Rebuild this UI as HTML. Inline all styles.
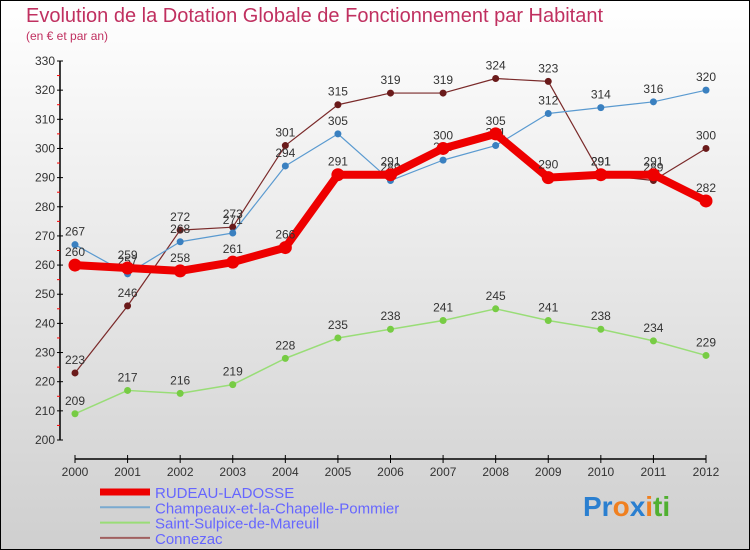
<!DOCTYPE html>
<html><head><meta charset="utf-8"><style>
body{margin:0;}
#c{width:750px;height:550px;position:relative;box-sizing:border-box;border:1px solid #000;background:linear-gradient(#ffffff,#cfcfcf);font-family:"Liberation Sans",sans-serif;overflow:hidden}
</style></head><body>
<div id="c">
<svg id="s" width="750" height="550" style="position:absolute;left:-1px;top:-1px">
<text x="26" y="22" font-size="20" fill="#c03060">Evolution de la Dotation Globale de Fonctionnement par Habitant</text>
<text x="26" y="40" font-size="12" fill="#c03060">(en € et par an)</text>
<g id="axes"></g><g id="series"></g><g id="legend"></g>
<text x="583" y="516" font-size="28" font-weight="bold"><tspan fill="#2a7fd0">Pr</tspan><tspan fill="#f08020">o</tspan><tspan fill="#2a7fd0">x</tspan><tspan fill="#f08020">i</tspan><tspan fill="#50b030">ti</tspan></text>
</svg>
</div>
<script>
const years=[2000,2001,2002,2003,2004,2005,2006,2007,2008,2009,2010,2011,2012];
const yTicks=[200,210,220,230,240,250,260,270,280,290,300,310,320,330];
const rudeau=[260,259,258,261,266,291,291,300,305,290,291,291,282];
const champeaux=[267,257,268,271,294,305,289,296,301,312,314,316,320];
const sulpice=[209,217,216,219,228,235,238,241,245,241,238,234,229];
const connezac=[223,246,272,273,301,315,319,319,324,323,291,289,300];
const NS="http://www.w3.org/2000/svg";
function X(i){return 75+i*(706-75)/12;}
function Y(v){return 440-(v-200)*(440-61)/130;}
function mk(t,a,p){const e=document.createElementNS(NS,t);for(const k in a)e.setAttribute(k,a[k]);p.appendChild(e);return e;}
const ax=document.getElementById('axes');
let e=mk('line',{x1:60,y1:61,x2:60,y2:440,stroke:'#000','stroke-width':1.5},ax);

e=mk('line',{x1:75,y1:459,x2:706,y2:459,stroke:'#000','stroke-width':1.5},ax);

yTicks.forEach((v,i)=>{
 mk('line',{x1:57,y1:Y(v),x2:63,y2:Y(v),stroke:'#000'},ax);
 if(i<yTicks.length-1)mk('line',{x1:57,y1:Y(v+5),x2:60,y2:Y(v+5),stroke:'#f00'},ax);
 const t=mk('text',{x:55,y:Y(v)+4,'font-size':12,'text-anchor':'end',fill:'#333'},ax);t.textContent=v;
 
});
years.forEach((y,i)=>{
 mk('line',{x1:X(i),y1:455,x2:X(i),y2:463,stroke:'#000'},ax);
 const t=mk('text',{x:X(i),y:476,'font-size':12,'text-anchor':'middle',fill:'#333'},ax);t.textContent=y;
 
});
const sg=document.getElementById('series');
const series=[
 {n:'connezac',d:connezac,c:'#7a2a2a',w:1.2,r:3.5,f:'#6a1a1a'},
 {n:'champeaux',d:champeaux,c:'#5a9ad0',w:1.2,r:3.5,f:'#3a80c0'},
 {n:'sulpice',d:sulpice,c:'#99dd77',w:1.5,r:3.5,f:'#77cc44'},
 {n:'rudeau',d:rudeau,c:'#ee0000',w:8,r:6.5,f:'#ee0000'}];
series.forEach(s=>{
 const g=mk('g',{},sg);
 
 const p=mk('polyline',{points:s.d.map((v,i)=>X(i)+','+Y(v)).join(' '),fill:'none',stroke:s.c,'stroke-width':s.w,'stroke-linejoin':'round'},g);
 
 s.d.forEach((v,i)=>{
  const c=mk('circle',{cx:X(i),cy:Y(v),r:s.r,fill:s.f},g);
  
  const t=mk('text',{x:X(i),y:Y(v)-9,'font-size':12,'text-anchor':'middle',fill:'#333'},g);t.textContent=v;
  
 });
});
const lg=document.getElementById('legend');
const leg=[['RUDEAU-LADOSSE','#ee0000',7],['Champeaux-et-la-Chapelle-Pommier','#7aaad0',2],['Saint-Sulpice-de-Mareuil','#99dd77',2],['Connezac','#a06060',2]];
leg.forEach((l,i)=>{
 const y=492+i*15.3;
 const g=mk('g',{},lg);
 
 mk('line',{x1:100,y1:y,x2:150,y2:y,stroke:l[1],'stroke-width':l[2]},g);
 const t=mk('text',{x:155,y:y+6,'font-size':15,fill:'#6666ff'},g);t.textContent=l[0];
});
</script>
</body></html>
